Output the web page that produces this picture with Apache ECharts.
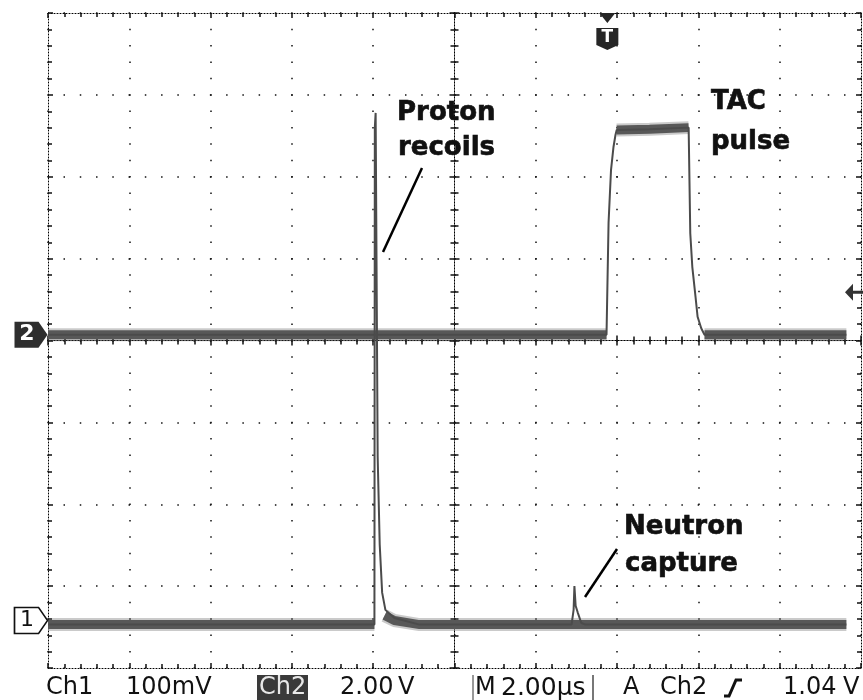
<!DOCTYPE html>
<html>
<head>
<meta charset="utf-8">
<script src="https://cdn.jsdelivr.net/npm/echarts@6/dist/echarts.min.js"></script>
<style>
  html, body { margin: 0; padding: 0; background: #fff; }
  #scope { width: 863px; height: 700px; }
</style>
</head>
<body>
<div id="scope"></div>
<script>
// time in µs from screen centre (2 µs/div), level in screen divisions
var ch2Time = [-10, 3.74, 3.79, 3.85, 3.91, 3.96, 3.99, 4.80, 5.76, 5.80, 5.85, 5.93, 5.98, 6.07, 6.15, 9.64];
var ch2Div  = [0.07, 0.07, 1.44, 2.08, 2.36, 2.51, 2.57, 2.58, 2.60, 1.31, 0.90, 0.53, 0.29, 0.15, 0.07, 0.07];

var ch1Time = [-10, -1.97, -1.96, -1.94, -1.90, -1.89, -1.86, -1.84, -1.78, -1.70, -1.48, -0.86, 2.88, 2.93, 2.95, 2.98, 3.03, 3.12, 3.22, 9.64];
var ch1Div  = [-3.47, -3.47, 2.60, 2.78, 2.78, -1.42, -1.42, -2.49, -3.08, -3.29, -3.39, -3.47, -3.47, -3.29, -3.00, -3.24, -3.32, -3.45, -3.47, -3.47];

// noisy flat parts of the traces (drawn as a thick band)
var ch2Band = [
  [[-10, 0.07], [3.74, 0.07]],
  [[3.99, 2.57], [4.80, 2.58], [5.76, 2.60]],
  [[6.15, 0.07], [9.64, 0.07]]
];
var ch1Band = [
  [[-10, -3.47], [-1.97, -3.47]],
  [[-1.72, -3.36], [-1.48, -3.42], [-0.86, -3.47], [9.64, -3.47]]
];

var ch2Ground = 0.07;
var ch1Ground = -3.42;
var trigTime = 3.76;
var trigLevel = 0.59;

var TRACE = '#4b4b4b';
var FONT = '"DejaVu Sans"';

function zip(t, v) {
  return t.map(function (x, i) { return [x, v[i]]; });
}

var chart = echarts.init(document.getElementById('scope'));

function xAx(pos, onZero, grid) {
  return {
    type: 'value', min: -10, max: 10, interval: 2, position: pos,
    axisLine: { show: true, onZero: onZero, onZeroAxisIndex: onZero ? 0 : undefined,
      lineStyle: { color: '#000', width: 1, type: [1, 2] } },
    axisTick: { show: true, inside: true, length: 5, lineStyle: { color: '#111', width: 1.5 } },
    minorTick: { show: true, splitNumber: 5, length: 4, lineStyle: { color: '#111', width: 1.5 } },
    axisLabel: { show: false },
    splitLine: { show: grid, lineStyle: { color: '#111', width: 1.5, type: [1.5, 14.875], dashOffset: 0.75 } }
  };
}
function yAx(pos, onZero, grid) {
  return {
    type: 'value', min: -4, max: 4, interval: 1, position: pos,
    axisLine: { show: true, onZero: onZero, onZeroAxisIndex: onZero ? 0 : undefined,
      lineStyle: { color: '#000', width: 1, type: [1, 2] } },
    axisTick: { show: true, inside: true, length: 5, lineStyle: { color: '#111', width: 1.5 } },
    minorTick: { show: true, splitNumber: 5, length: 4, lineStyle: { color: '#111', width: 1.5 } },
    axisLabel: { show: false },
    splitLine: { show: grid, lineStyle: { color: '#111', width: 1.5, type: [1.5, 14.76], dashOffset: 0.75 } }
  };
}

function band(seg) {
  return [
    { type: 'line', data: seg, showSymbol: false, silent: true, clip: false,
      lineStyle: { color: 'rgba(80,80,80,0.3)', width: 13, cap: 'butt' } },
    { type: 'line', data: seg, showSymbol: false, silent: true, clip: false,
      lineStyle: { color: '#585858', width: 9, cap: 'butt' } }
  ];
}

var series = [];
ch2Band.forEach(function (s) { series = series.concat(band(s)); });
ch1Band.forEach(function (s) { series = series.concat(band(s)); });

series.push({
  type: 'line', data: zip(ch2Time, ch2Div), showSymbol: false, clip: false,
  lineStyle: { color: TRACE, width: 2 },
  markPoint: {
    silent: true,
    data: [
      { coord: [-10, ch2Ground], symbol: 'path://M0,0 L24,0 L33,13 L24,26 L0,26 Z',
        symbolSize: [33, 26], symbolOffset: [-17, 0],
        itemStyle: { color: '#2e2e2e' },
        label: { show: true, position: 'inside', offset: [-4, 0], formatter: '2',
          color: '#fff', fontSize: 22, fontWeight: 'bold', fontFamily: FONT } },
      { coord: [trigTime, 4], symbol: 'path://M3,0 L19,0 L11,10 Z M0,15 L22,15 L22,32 L11,37 L0,32 Z',
        symbolSize: [22, 37], symbolOffset: [0, 18.5],
        itemStyle: { color: '#262626' },
        label: { show: true, position: 'inside', offset: [0, 6], formatter: 'T',
          color: '#fff', fontSize: 17, fontWeight: 'bold', fontFamily: FONT } },
      { coord: [10, trigLevel], symbol: 'path://M0,8.5 L8,0 L8,7 L18,7 L18,10 L8,10 L8,17 Z',
        symbolSize: [18, 17], symbolOffset: [-7, 0],
        itemStyle: { color: '#333' }, label: { show: false } }
    ]
  }
});
series.push({
  type: 'line', data: zip(ch1Time, ch1Div), showSymbol: false, clip: false,
  lineStyle: { color: TRACE, width: 2 },
  markPoint: {
    silent: true,
    data: [
      { coord: [-10, ch1Ground], symbol: 'path://M0,0 L24,0 L33,13 L24,26 L0,26 Z',
        symbolSize: [33, 26], symbolOffset: [-17, 0],
        itemStyle: { color: '#fff', borderColor: '#111', borderWidth: 1.5 },
        label: { show: true, position: 'inside', offset: [-4, 0], formatter: '1',
          color: '#111', fontSize: 22, fontFamily: FONT } }
    ]
  }
});

function txt(s, x, y, size, bold, fill) {
  return { type: 'text', x: x, y: y, silent: true, z: 100,
    style: { text: s, fill: fill || '#111', font: (bold ? 'bold ' : '') + size + 'px ' + FONT,
      align: 'left', verticalAlign: 'middle',
      stroke: bold ? '#000' : null, lineWidth: bold ? 0.6 : 0 } };
}

var graphics = [
  // annotations
  txt('Proton', 397, 113, 26, true), txt('recoils', 398, 148, 26, true),
  txt('TAC', 711, 102, 26, true), txt('pulse', 711, 142, 26, true),
  txt('Neutron', 624, 527, 26, true), txt('capture', 625, 564, 26, true),
  { type: 'line', silent: true, shape: { x1: 422, y1: 168, x2: 383, y2: 252 }, style: { stroke: '#000', lineWidth: 2.5 } },
  { type: 'line', silent: true, shape: { x1: 617, y1: 549, x2: 585, y2: 597 }, style: { stroke: '#000', lineWidth: 2.5 } },
  // status line
  txt('Ch1', 46, 688, 24, false), txt('100mV', 126, 688, 24, false),
  { type: 'rect', silent: true, shape: { x: 257, y: 675, width: 51, height: 25 }, style: { fill: '#3a3a3a' } },
  txt('Ch2', 259, 688, 24, false, '#e8e8e8'),
  txt('2.00', 340, 688, 24, false), txt('V', 398, 688, 24, false),
  { type: 'line', silent: true, shape: { x1: 473, y1: 675, x2: 473, y2: 700 }, style: { stroke: '#999', lineWidth: 2 } },
  { type: 'line', silent: true, shape: { x1: 593, y1: 675, x2: 593, y2: 700 }, style: { stroke: '#777', lineWidth: 2 } },
  txt('M', 475, 688, 24, false), txt('2.00µs', 501, 688, 25, false),
  txt('A', 623, 688, 24, false), txt('Ch2', 660, 688, 24, false),
  { type: 'polyline', silent: true, shape: { points: [[724, 696], [729, 696], [736, 680], [742, 680]] }, style: { stroke: '#111', lineWidth: 3, fill: null } },
  txt('1.04', 783, 688, 24, false), txt('V', 843, 688, 24, false)
];

chart.setOption({
  backgroundColor: '#fff',
  animation: false,
  grid: { left: 48, right: 2, top: 13, bottom: 32, containLabel: false, outerBoundsMode: 'none' },
  xAxis: [xAx('bottom', false, true), xAx('top', false, false), xAx('bottom', true, false), xAx('top', true, false)],
  yAxis: [yAx('left', false, true), yAx('right', false, false), yAx('left', true, false), yAx('right', true, false)],
  series: series,
  graphic: graphics
});
</script>
</body>
</html>
